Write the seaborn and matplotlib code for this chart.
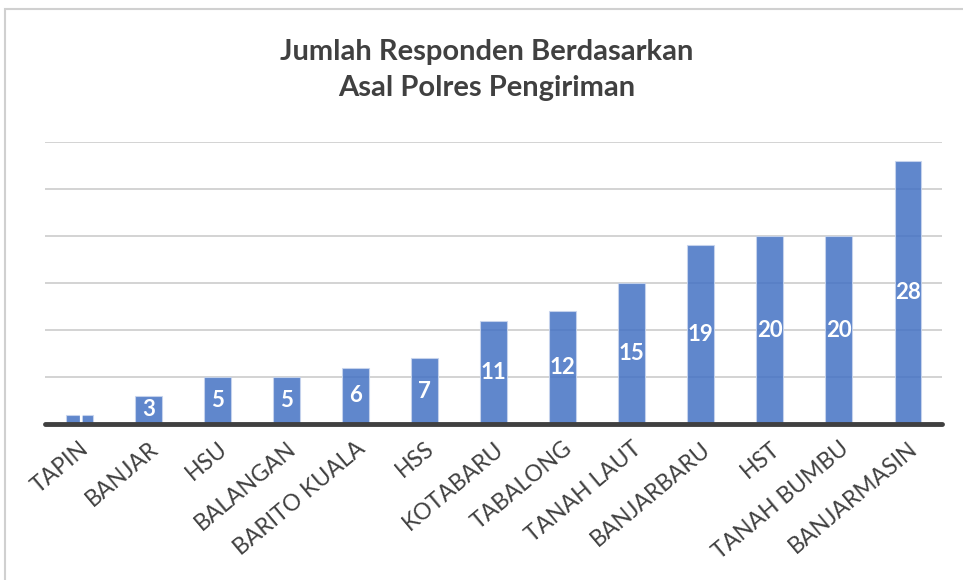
import matplotlib
matplotlib.use('Agg')
import matplotlib.pyplot as plt
import seaborn as sns
import pandas as pd
from matplotlib.patches import Rectangle

polres = ['TAPIN', 'BANJAR', 'HSU', 'BALANGAN', 'BARITO KUALA', 'HSS', 'KOTABARU',
          'TABALONG', 'TANAH LAUT', 'BANJARBARU', 'HST', 'TANAH BUMBU', 'BANJARMASIN']
jumlah = [1, 3, 5, 5, 6, 7, 11, 12, 15, 19, 20, 20, 28]

df = pd.DataFrame({'polres': polres, 'jumlah': jumlah})

sns.set_style('white')
plt.rcParams['font.family'] = ['Lato', 'DejaVu Sans']

fig = plt.figure(figsize=(9.63, 5.80), dpi=100)
ax = fig.add_axes([0.0467, 0.269, 0.932, 0.486])

for g in [5, 10, 15, 20, 25, 30]:
    ax.axhline(g, color='#d0d0d0', lw=1.3, zorder=0)

sns.barplot(data=df, x='polres', y='jumlah', color='#4472C4', saturation=1,
            alpha=0.85, width=0.39, ax=ax, zorder=2,
            edgecolor='#c9d6ee', linewidth=0.8)

for i, v in enumerate(jumlah):
    ax.text(i, v / 2, str(v), ha='center', va='center', color='white',
            fontsize=16, fontweight='bold', zorder=3)

ax.axhline(0, color='#404040', lw=3.5, zorder=4, clip_on=False)
ax.set_ylim(0, 30)
ax.set_xlim(-0.5, 12.5)
ax.set_yticks([])
ax.set_xlabel('')
ax.set_ylabel('')
for s in ax.spines.values():
    s.set_visible(False)
ax.tick_params(axis='x', length=0, pad=10)
plt.setp(ax.get_xticklabels(), rotation=40, ha='right', rotation_mode='anchor',
         fontsize=16.5, color='#404040')

fig.text(0.505, 0.879, 'Jumlah Responden Berdasarkan\nAsal Polres Pengiriman',
         ha='center', va='center', fontsize=21, fontweight='bold',
         color='#404040', linespacing=1.45)

fig.patches.append(Rectangle((0.005, -0.01), 1.0, 0.995, transform=fig.transFigure,
                             fill=False, edgecolor='#d0d0d0', lw=1.5))

fig.savefig('out.png', dpi=100)
